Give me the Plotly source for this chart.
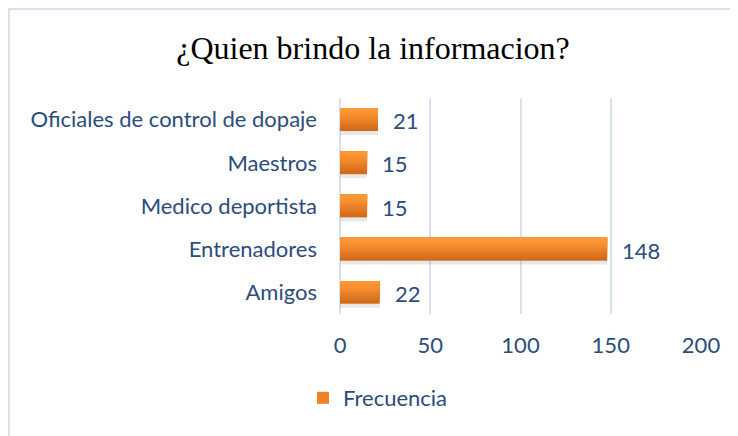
import plotly.graph_objects as go

categories = ["Amigos", "Entrenadores", "Medico deportista", "Maestros", "Oficiales de control de dopaje"]
frecuencia = [22, 148, 15, 15, 21]
x_ticks = [0, 50, 100, 150, 200]
series_name = "Frecuencia"
title_text = "¿Quien brindo la informacion?"

TXT = "#2B4C7E"
GRID = "#D6E2F1"
band_colors = ["#D26B1C", "#DA7320", "#E37B24", "#EC8329", "#F48B2D", "#FA9232", "#FE9836"]

fig = go.Figure()

bar_w = 0.53
n = len(band_colors)
bw = bar_w / n

# soft shadow under bars
fig.add_trace(go.Bar(
    y=categories, x=frecuencia, orientation="h",
    offset=-bar_w / 2 - 0.09, width=0.09,
    marker=dict(color="rgba(110,110,110,0.16)", line=dict(width=0)),
    showlegend=False, hoverinfo="skip"))

# vertical gradient: cumulative overlays from bottom (dark) to top (light)
for i, c in enumerate(band_colors):
    fig.add_trace(go.Bar(
        y=categories, x=frecuencia, orientation="h",
        offset=-bar_w / 2 + i * bw, width=bar_w - i * bw,
        marker=dict(color=c, line=dict(width=0)),
        name=series_name, showlegend=(i == 3), legendgroup="f",
        hoverinfo="skip"))

for cat, v in zip(categories, frecuencia):
    fig.add_annotation(x=v, y=cat, text=str(v), showarrow=False,
                       xanchor="left", xshift=13, yshift=-1,
                       font=dict(family="Lato", size=22, color=TXT))

# figure is drawn 8px in from the page corner
W, H = 730, 428
L, R, T, B = 332, 37, 90, 122
pw, ph = W - L - R, H - T - B

def px_x(p):
    return (p - L) / pw

def px_y(p):
    return (H - B - p) / ph

fig.add_shape(type="line", xref="paper", yref="paper",
              x0=px_x(0), x1=px_x(W + 5), y0=px_y(1), y1=px_y(1),
              line=dict(color=GRID, width=2))
fig.add_shape(type="line", xref="paper", yref="paper",
              x0=px_x(1), x1=px_x(1), y0=px_y(0), y1=px_y(H + 5),
              line=dict(color=GRID, width=2))

fig.update_layout(
    width=W, height=H,
    margin=dict(l=L, r=R, t=T, b=B),
    barmode="overlay",
    paper_bgcolor="white", plot_bgcolor="white",
    title=dict(text=title_text, x=0.5, xanchor="center", y=1 - 40 / H, yanchor="middle",
               font=dict(family="Liberation Serif", size=32, color="#000000")),
    font=dict(family="Lato", size=22, color=TXT),
    xaxis=dict(range=[0, 200], tickvals=x_ticks, showgrid=True, gridcolor=GRID, gridwidth=2,
               zeroline=True, zerolinecolor=GRID, zerolinewidth=2, showline=False,
               ticks="", ticklabelstandoff=16, tickfont=dict(family="Lato", size=22, color=TXT)),
    yaxis=dict(categoryorder="array", categoryarray=categories, showgrid=False,
               showline=False, ticks="", ticklabelstandoff=22,
               tickfont=dict(family="Lato", size=22, color=TXT)),
    legend=dict(orientation="h", x=px_x(295), xanchor="left", y=px_y(390), yanchor="middle",
                font=dict(family="Lato", size=22, color=TXT), itemwidth=30,
                bgcolor="rgba(0,0,0,0)"),
    showlegend=True,
)

fig.write_html("out.html")
